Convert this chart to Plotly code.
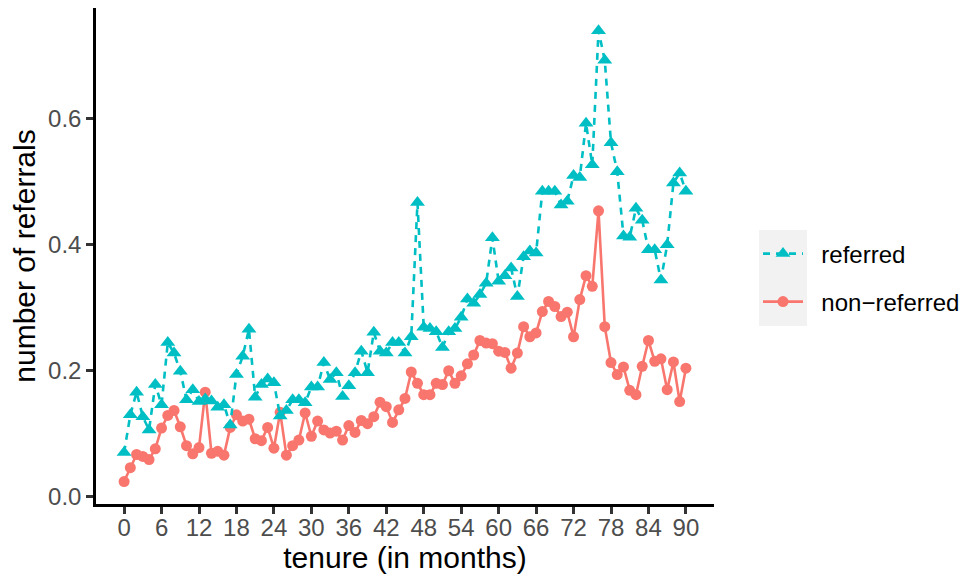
import plotly.graph_objects as go

months = list(range(0, 91))

non_referred = [
    0.024, 0.046, 0.067, 0.064, 0.059, 0.076, 0.109, 0.129, 0.137, 0.111,
    0.081, 0.068, 0.078, 0.166, 0.069, 0.072, 0.066, 0.110, 0.130, 0.120,
    0.123, 0.092, 0.089, 0.110, 0.077, 0.134, 0.066, 0.081, 0.090, 0.133,
    0.096, 0.120, 0.106, 0.101, 0.104, 0.090, 0.113, 0.102, 0.121, 0.116,
    0.127, 0.150, 0.143, 0.118, 0.138, 0.156, 0.198, 0.180, 0.162, 0.162,
    0.180, 0.178, 0.200, 0.180, 0.192, 0.211, 0.225, 0.248, 0.244, 0.243,
    0.231, 0.229, 0.204, 0.228, 0.270, 0.254, 0.260, 0.294, 0.310, 0.302,
    0.286, 0.293, 0.254, 0.313, 0.351, 0.334, 0.454, 0.270, 0.213, 0.194,
    0.206, 0.169, 0.162, 0.207, 0.248, 0.215, 0.219, 0.170, 0.214, 0.151,
    0.204,
]

referred = [
    0.070, 0.130, 0.166, 0.127, 0.106, 0.178, 0.146, 0.245, 0.228, 0.199,
    0.154, 0.170, 0.151, 0.155, 0.152, 0.142, 0.146, 0.114, 0.194, 0.223,
    0.266, 0.158, 0.178, 0.187, 0.181, 0.128, 0.137, 0.154, 0.154, 0.149,
    0.174, 0.174, 0.213, 0.186, 0.197, 0.159, 0.176, 0.197, 0.231, 0.197,
    0.261, 0.231, 0.228, 0.245, 0.245, 0.228, 0.254, 0.467, 0.269, 0.267,
    0.262, 0.237, 0.262, 0.267, 0.285, 0.314, 0.307, 0.321, 0.339, 0.411,
    0.342, 0.351, 0.363, 0.318, 0.381, 0.390, 0.387, 0.485, 0.485, 0.485,
    0.463, 0.469, 0.510, 0.507, 0.593, 0.527, 0.740, 0.693, 0.562, 0.516,
    0.414, 0.412, 0.458, 0.439, 0.392, 0.392, 0.344, 0.400, 0.498, 0.514,
    0.485,
]

x_ticks = list(range(0, 91, 6))
y_ticks = [0.0, 0.2, 0.4, 0.6]
y_tick_labels = ["0.0", "0.2", "0.4", "0.6"]
series_names = ["referred", "non\u2212referred"]

RED = "#F8766D"
CYAN = "#00BFC4"
FONT = "Liberation Sans, Arial, sans-serif"
PAD = "\u00a0\u00a0"  # visual gap between legend key and label

# page body has an 8px margin: figure is drawn at (8, 8) in the window
OFF = 8
W, H = 967 - OFF, 578 - OFF
L, R, T, B = 96 - OFF, 967 - 714, 8 - OFF, 578 - 504

def sx(px):
    return (px - OFF - L) / (W - L - R)

def sy(py):
    return (H - B - (py - OFF)) / (H - T - B)

fig = go.Figure()
fig.add_trace(go.Scatter(
    x=months, y=non_referred, mode="lines+markers", name=PAD + series_names[1],
    line=dict(color=RED, width=2.6),
    marker=dict(symbol="circle", size=11, color=RED),
    legend="legend2",
))
fig.add_trace(go.Scatter(
    x=months, y=referred, mode="lines+markers", name=PAD + series_names[0],
    line=dict(color=CYAN, width=2.6, dash="7px,6px"),
    marker=dict(symbol="triangle-up", size=13, color=CYAN),
    legend="legend",
))

axis_common = dict(
    showgrid=False, zeroline=False, showline=True, linecolor="black", linewidth=2.5,
    ticks="outside", ticklen=7, tickwidth=2.5, tickcolor="#333333",
    tickfont=dict(size=24, color="#4D4D4D", family=FONT),
    automargin=False,
)

fig.update_layout(
    width=W, height=H,
    margin=dict(l=L, r=R, t=T, b=B),
    paper_bgcolor="white", plot_bgcolor="white",
    font=dict(family=FONT, color="black"),
    showlegend=True,
    xaxis=dict(
        range=[-4.5, 94.5], tickvals=x_ticks, ticktext=[str(v) for v in x_ticks],
        ticklabelstandoff=-7,
        title=dict(text="tenure (in months)", font=dict(size=30, color="black", family=FONT), standoff=6),
        **axis_common,
    ),
    yaxis=dict(
        range=[-0.0116, 0.776], tickvals=y_ticks, ticktext=y_tick_labels,
        title=dict(text="number of referrals", font=dict(size=30, color="black", family=FONT), standoff=8),
        **axis_common,
    ),
    legend=dict(
        x=sx(758), y=sy(254), xanchor="left", yanchor="middle",
        bgcolor="rgba(0,0,0,0)", font=dict(size=24, family=FONT, color="black"),
        itemwidth=40,
    ),
    legend2=dict(
        x=sx(758), y=sy(302), xanchor="left", yanchor="middle",
        bgcolor="rgba(0,0,0,0)", font=dict(size=24, family=FONT, color="black"),
        itemwidth=40,
    ),
    shapes=[dict(
        type="rect", xref="paper", yref="paper",
        x0=sx(759), x1=sx(807),
        y0=sy(326), y1=sy(230),
        fillcolor="#F2F2F2", line=dict(width=0), layer="below",
    )],
)

fig.write_html("out.html")
